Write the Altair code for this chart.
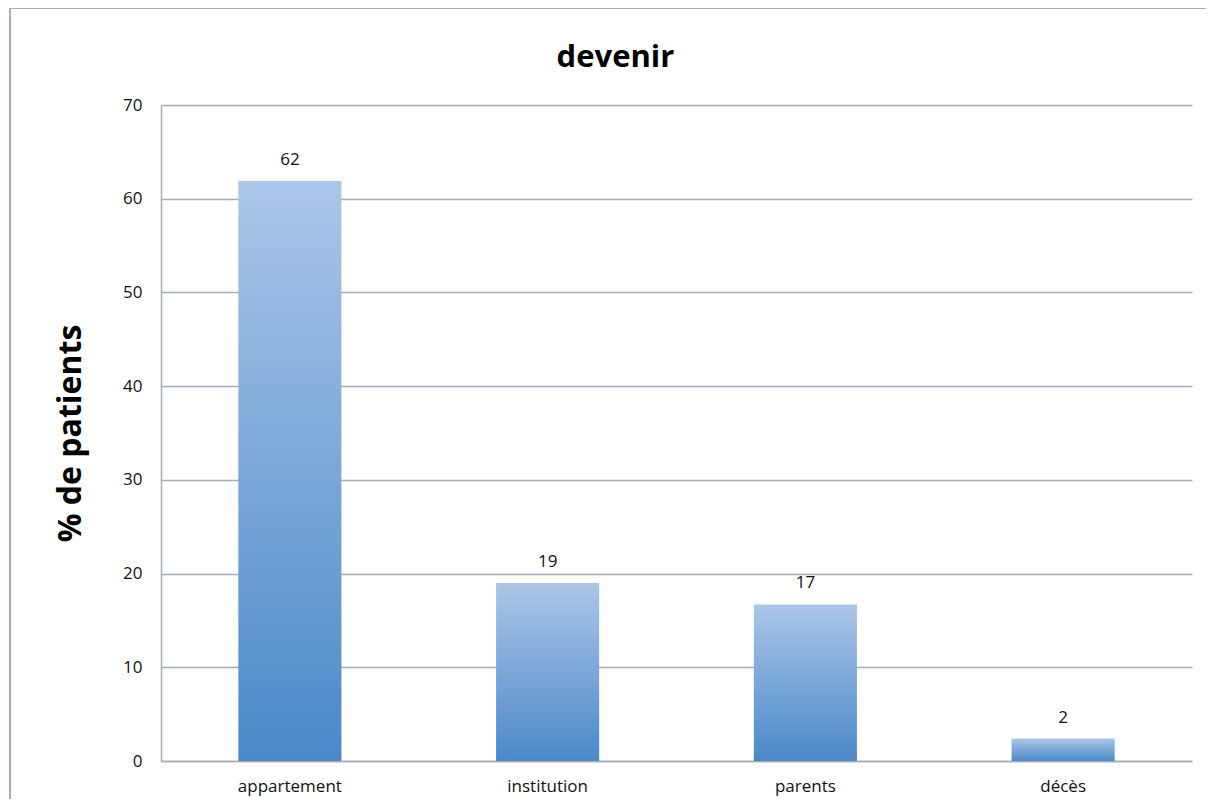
import altair as alt
import pandas as pd

categories = ["appartement", "institution", "parents", "décès"]
values = [61.9, 19.0, 16.7, 2.4]

df = pd.DataFrame({"categorie": categories, "pct": values})

FONT = "Open Sans"
GRID = "#a3acb8"

gradient = alt.Gradient(
    gradient="linear",
    stops=[
        alt.GradientStop(color="#abc6e8", offset=0),
        alt.GradientStop(color="#4a89c9", offset=1),
    ],
    x1=0, x2=0, y1=0, y2=1,
)

x_enc = alt.X(
    "categorie:N",
    sort=categories,
    title=None,
    scale=alt.Scale(paddingInner=0.6, paddingOuter=0.3),
    axis=alt.Axis(
        labelAngle=0, labelFont=FONT, labelFontSize=17, labelColor="#111111",
        labelPadding=17, ticks=False, domainColor=GRID, domainWidth=1.5,
        grid=False,
    ),
)
y_enc = alt.Y(
    "pct:Q",
    title="% de patients",
    scale=alt.Scale(domain=[0, 70]),
    axis=alt.Axis(
        values=[0, 10, 20, 30, 40, 50, 60, 70],
        labelFont=FONT, labelFontSize=17, labelColor="#111111",
        labelPadding=19, ticks=False, domainColor=GRID, domainWidth=1.5,
        gridColor=GRID, gridWidth=1.5,
        titleFont=FONT, titleFontSize=32, titleFontWeight="bold",
        titleColor="#000000", titlePadding=35,
    ),
)

bars = alt.Chart(df).mark_bar(color=gradient).encode(x=x_enc, y=y_enc)

labels = alt.Chart(df).mark_text(
    baseline="bottom", dy=-12, font=FONT, fontSize=17, color="#111111"
).encode(
    x=alt.X("categorie:N", sort=categories),
    y="pct:Q",
    text=alt.Text("pct:Q", format=".0f"),
)

frame_top = alt.Chart(df).mark_rule(color=GRID, strokeWidth=2, clip=False).encode(
    x=alt.value(-151), x2=alt.value(1060), y=alt.value(-97)
)
frame_left = alt.Chart(df).mark_rule(color=GRID, strokeWidth=2, clip=False).encode(
    x=alt.value(-151), y=alt.value(-97), y2=alt.value(710)
)

chart = alt.layer(frame_top, frame_left, bars, labels).properties(
    width=1031,
    height=656,
    autosize=alt.AutoSizeParams(type="none"),
    padding={"left": 153, "top": 97, "right": 14, "bottom": 38},
    title=alt.TitleParams(
        "devenir", font=FONT, fontSize=31, fontWeight="bold", color="#000000",
        anchor="middle", frame="group", dx=-61, offset=-91, baseline="alphabetic",
    ),
).configure(
    background="white",
    view=alt.ViewConfig(stroke="transparent", strokeWidth=0),
)

chart.save("out.html", embed_options={"renderer": "svg", "actions": False})
